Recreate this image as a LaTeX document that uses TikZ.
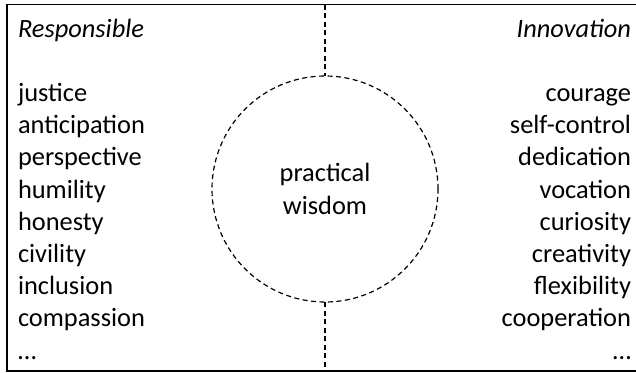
\documentclass[tikz,border=0pt]{standalone}
\usepackage{fontspec}
\setmainfont{Carlito}
\usetikzlibrary{positioning}

\begin{document}
\begin{tikzpicture}[
  x=1pt, y=-1pt,
  every node/.style={font=\fontsize{26.4}{32.2}\selectfont, inner sep=0pt, outer sep=0pt},
  frame/.style={line width=1.3pt},
  sep/.style={dashed, dash pattern=on 5pt off 3.5pt, line width=1.2pt},
  item/.style={anchor=base west},
  ritem/.style={anchor=base east}
]
\useasboundingbox (0,0) rectangle (636,372);
\draw[frame] (636,4.5) -- (7,4.5) -- (7,371) -- (636,371);
% the two columns
\node[item] (resp) at (18,37) {\textit{Responsible}};
\node[ritem] (innov) at (631,37) {\textit{Innovation}};
\foreach \w [count=\i] in {justice, anticipation, perspective, humility, honesty, civility, inclusion, compassion, \dots}
  \node[item] (l\i) at (18,{101.5+32.2*(\i-1)}) {\w};
\foreach \w [count=\i] in {courage, self-control, dedication, vocation, curiosity, creativity, flexibility, cooperation, \dots}
  \node[ritem] (r\i) at (631,{101.5+32.2*(\i-1)}) {\w};
% centre
\node[circle, draw, sep, minimum size=226pt, align=center] (wisdom) at (325,189) {practical\\wisdom};
\coordinate (top) at (325,4.5);
\coordinate (bottom) at (325,371);
\draw[sep] (top) -- (wisdom.north);
\draw[sep] (wisdom.south) -- (bottom);
\end{tikzpicture}
\end{document}
